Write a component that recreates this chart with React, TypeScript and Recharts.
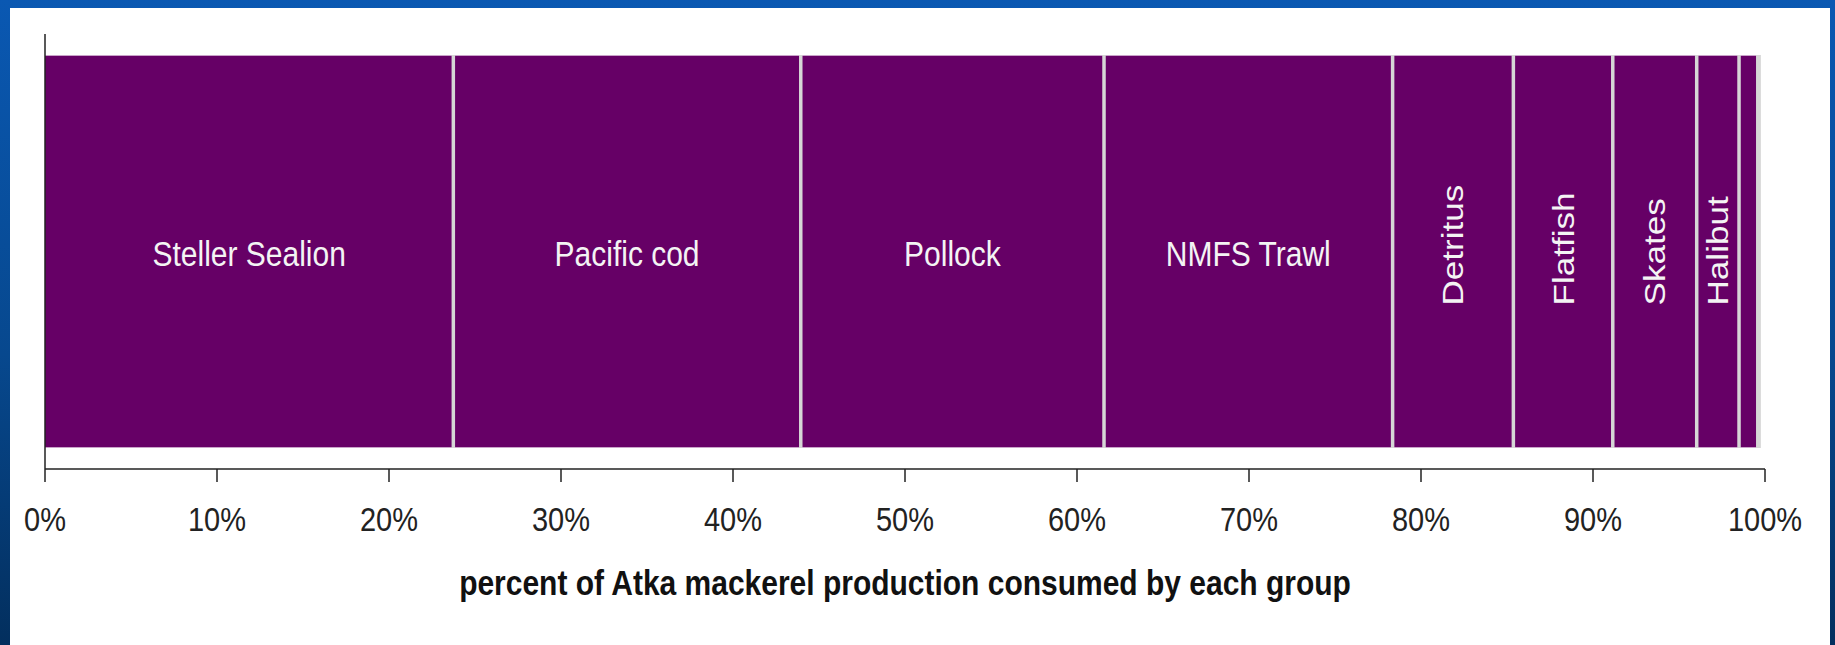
import React from 'react';
import { BarChart, Bar, XAxis, YAxis, LabelList } from 'recharts';

// groups that eat Atka mackerel production, in stacking order
const groups = [
  'Steller Sealion',
  'Pacific cod',
  'Pollock',
  'NMFS Trawl',
  'Detritus',
  'Flatfish',
  'Skates',
  'Halibut',
  '',
  '',
];

// percent of production consumed by each group
const shares = [23.74, 20.2, 17.63, 16.78, 7.02, 5.78, 4.88, 2.46, 1.09, 0.12];

const xTicks = [0, 10, 20, 30, 40, 50, 60, 70, 80, 90, 100];

const axisTitle = 'percent of Atka mackerel production consumed by each group';

const BAR_FILL = '#660066';
const SEPARATOR = '#d6d6d6';
const FONT = '"Liberation Sans", Arial, sans-serif';
const STRETCH = 1.17; // text in the source is slightly taller than wide

const row: Record<string, string | number> = { name: 'Atka mackerel' };
groups.forEach((_, i) => {
  row['g' + i] = shares[i];
});
const data = [row];

function Segment(props: any) {
  const { x, y, width, height, first } = props;
  if (!width || width <= 0) return null;
  return (
    <g>
      <rect x={x} y={y} width={width} height={height} fill={BAR_FILL} />
      <line x1={x} x2={x + width} y1={y + 0.5} y2={y + 0.5} stroke="#c9a3c9" strokeWidth={1} />
      <line x1={x} x2={x + width} y1={y + height - 0.5} y2={y + height - 0.5} stroke="#c9a3c9" strokeWidth={1} />
      {!first && <line x1={x} x2={x} y1={y} y2={y + height} stroke={SEPARATOR} strokeWidth={3.5} />}
      <line x1={x + width} x2={x + width} y1={y} y2={y + height} stroke={SEPARATOR} strokeWidth={2} />
    </g>
  );
}

function segmentLabel(name: string) {
  return (props: any) => {
    const { x, y, width, height } = props;
    if (!name || width < 30) return null;
    const cx = x + width / 2;
    const cy = y + height / 2;
    if (width < 130) {
      return (
        <g transform={`translate(${cx + 10.5},${cy + 54}) scale(1,${STRETCH}) rotate(-90)`}>
          <text x={0} y={0} textAnchor="start" fontSize={30} fontFamily={FONT} fill="#f4f4f4">
            {name}
          </text>
        </g>
      );
    }
    return (
      <g transform={`translate(${cx},${cy + 14}) scale(1,${STRETCH})`}>
        <text x={0} y={0} textAnchor="middle" fontSize={30} fontFamily={FONT} fill="#f4f4f4">
          {name}
        </text>
      </g>
    );
  };
}

function PercentTick(props: any) {
  const { x, y, payload } = props;
  return (
    <g transform={`translate(${x},${y + 47}) scale(1,${STRETCH})`}>
      <text x={0} y={0} textAnchor="middle" fontSize={29} fontFamily={FONT} fill="#222">
        {payload.value}%
      </text>
    </g>
  );
}

function AxisTitle(props: any) {
  const vb = props.viewBox || {};
  return (
    <g transform={`translate(${vb.x + vb.width / 2},${vb.y + 125.5}) scale(1,${STRETCH})`}>
      <text x={0} y={0} textAnchor="middle" fontSize={30} fontWeight="bold" fontFamily={FONT} fill="#111">
        {axisTitle}
      </text>
    </g>
  );
}

export default function App() {
  return (
    <div
      style={{
        position: 'absolute',
        left: 0,
        top: 0,
        width: 1835,
        height: 645,
        overflow: 'hidden',
        background: 'linear-gradient(to bottom, #0a58b2 0%, #07488e 55%, #032f5e 100%)',
      }}
    >
      <div style={{ position: 'absolute', left: 10, top: 8, width: 1820, height: 637, background: '#ffffff' }}>
        <BarChart
          width={1820}
          height={637}
          data={data}
          layout="vertical"
          margin={{ top: 26, right: 65, left: 15, bottom: 0 }}
        >
          <XAxis
            type="number"
            domain={[0, 100]}
            ticks={xTicks}
            interval={0}
            height={176}
            tickSize={13}
            tick={<PercentTick />}
            tickLine={{ stroke: '#222', strokeWidth: 1.5 }}
            axisLine={{ stroke: '#222', strokeWidth: 1.5 }}
            label={<AxisTitle />}
          />
          <YAxis
            type="category"
            dataKey="name"
            width={20}
            tick={false}
            tickLine={false}
            axisLine={{ stroke: '#222', strokeWidth: 1.5 }}
          />
          {groups.map((g, i) => (
            <Bar
              key={'g' + i}
              dataKey={'g' + i}
              stackId="a"
              fill={BAR_FILL}
              barSize={393}
              shape={<Segment first={i === 0} />}
              isAnimationActive={false}
            >
              <LabelList dataKey={'g' + i} content={segmentLabel(g)} />
            </Bar>
          ))}
        </BarChart>
      </div>
    </div>
  );
}
